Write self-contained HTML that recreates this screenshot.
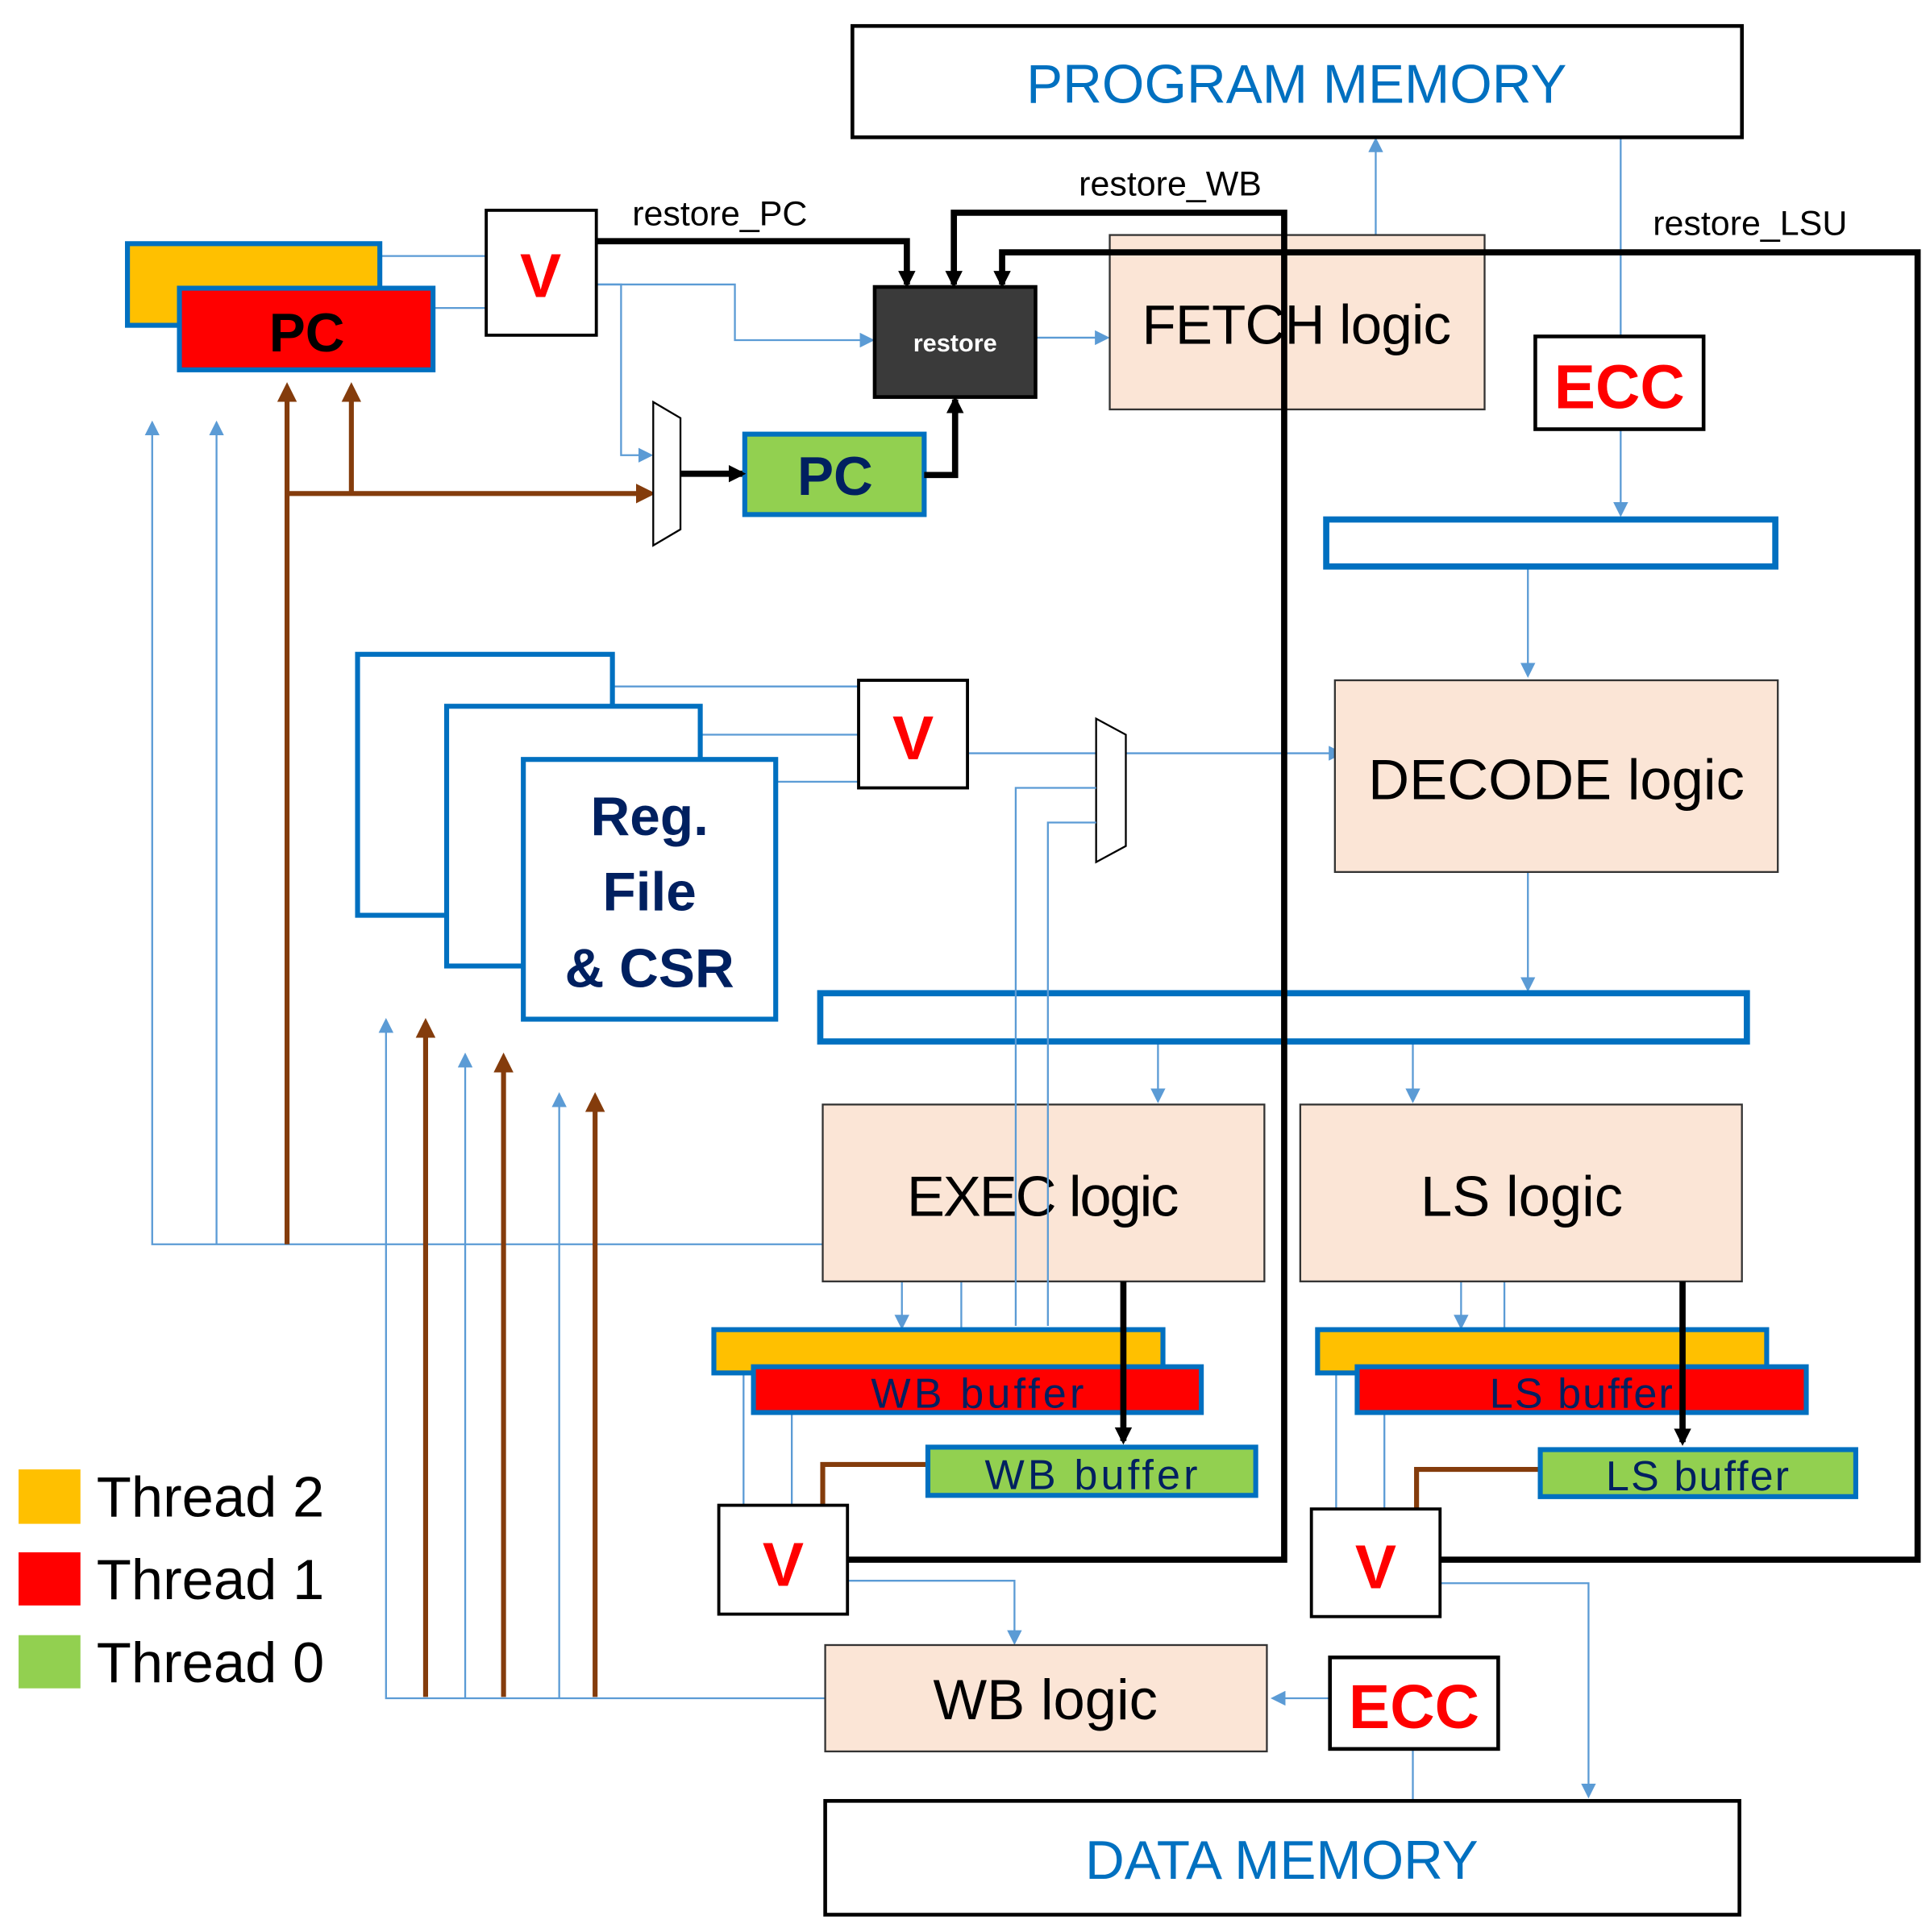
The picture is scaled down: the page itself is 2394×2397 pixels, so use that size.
<!DOCTYPE html>
<html><head><meta charset="utf-8"><style>
html,body{margin:0;padding:0;background:#fff;}
svg{display:block;}
text{font-family:"Liberation Sans","DejaVu Sans",sans-serif;}
</style></head><body>
<svg width="2394" height="2397" viewBox="0 0 1560 1562" xmlns="http://www.w3.org/2000/svg">
<defs>
<marker id="ab" markerWidth="12" markerHeight="12" refX="10" refY="6" orient="auto" markerUnits="userSpaceOnUse"><path d="M0,0 L12,6 L0,12 z" fill="#5b9bd5"/></marker>
<marker id="ak" markerWidth="14" markerHeight="14" refX="11" refY="7" orient="auto" markerUnits="userSpaceOnUse"><path d="M0,0 L14,7 L0,14 z" fill="#000"/></marker>
<marker id="ar" markerWidth="16" markerHeight="16" refX="12" refY="8" orient="auto" markerUnits="userSpaceOnUse"><path d="M0,0 L16,8 L0,16 z" fill="#843c0c"/></marker>
</defs>

<g stroke="#5b9bd5" stroke-width="1.5" fill="none">
<path d="M307,207 H393"/><path d="M350,249 H393"/>
<path d="M482,230 H594 V275 H705" marker-end="url(#ab)"/>
<path d="M482,230 H502 V368 H526" marker-end="url(#ab)"/>
<path d="M837,273 H895" marker-end="url(#ab)"/>
<path d="M1112,190 V113" marker-end="url(#ab)"/>
<path d="M1310,111 V272"/>
<path d="M1310,347 V416" marker-end="url(#ab)"/>
<path d="M1235,458 V546" marker-end="url(#ab)"/>
<path d="M495,555 H694"/><path d="M566,594 H694"/><path d="M627,632 H694"/>
<path d="M782,609 H886"/>
<path d="M910,609 H1084" marker-end="url(#ab)"/>
<path d="M1235,705 V800" marker-end="url(#ab)"/>
<path d="M936,842 V890" marker-end="url(#ab)"/>
<path d="M1142,842 V890" marker-end="url(#ab)"/>
<path d="M665,1006 H123 V342" marker-end="url(#ab)"/>
<path d="M175,1006 V342" marker-end="url(#ab)"/>
<path d="M729,1036 V1073" marker-end="url(#ab)"/>
<path d="M777,1036 V1100" marker-end="url(#ab)"/>
<path d="M1181,1036 V1073" marker-end="url(#ab)"/>
<path d="M1216,1036 V1100" marker-end="url(#ab)"/>
<path d="M601,1110 V1217"/><path d="M640,1142 V1217"/>
<path d="M1080,1110 V1220"/><path d="M1119,1142 V1220"/>
<path d="M685,1278 H820 V1328" marker-end="url(#ab)"/>
<path d="M1164,1280 H1284 V1452" marker-end="url(#ab)"/>
<path d="M1075,1373 H1029" marker-end="url(#ab)"/>
<path d="M1142,1414 V1456"/>
<path d="M667,1373 H312 V825" marker-end="url(#ab)"/>
<path d="M376,1373 V853" marker-end="url(#ab)"/>
<path d="M452,1373 V885" marker-end="url(#ab)"/>
</g>

<g stroke="#843c0c" stroke-width="4" fill="none">
<path d="M232,1006 V313" marker-end="url(#ar)"/>
<path d="M284,399 V313" marker-end="url(#ar)"/>
<path d="M232,399 H526" marker-end="url(#ar)"/>
<path d="M344,1372 V827" marker-end="url(#ar)"/>
<path d="M407,1372 V855" marker-end="url(#ar)"/>
<path d="M481,1372 V887" marker-end="url(#ar)"/>
<path d="M665,1217 V1184 H750"/>
<path d="M1145,1220 V1188 H1245"/>
</g>

<rect x="689" y="21" width="719" height="90" fill="#fff" stroke="#000" stroke-width="3"/>
<text x="1048" y="83" font-size="44" fill="#0070c0" text-anchor="middle">PROGRAM MEMORY</text>

<rect x="103" y="197" width="204" height="66" fill="#ffc000" stroke="#0070c0" stroke-width="4"/>
<rect x="145" y="233" width="205" height="66" fill="#ff0000" stroke="#0070c0" stroke-width="4"/>
<text x="248" y="284" font-size="44" font-weight="bold" fill="#000" text-anchor="middle">PC</text>

<rect x="393" y="170" width="89" height="101" fill="#fff" stroke="#000" stroke-width="2.5"/>
<text x="437" y="240" font-size="50" font-weight="bold" fill="#ff0000" text-anchor="middle">V</text>

<rect x="897" y="190" width="303" height="141" fill="#fbe5d6" stroke="#333" stroke-width="1.5"/>
<text x="1048" y="278" font-size="45" fill="#000" text-anchor="middle" textLength="250">FETCH logic</text>

<rect x="1241" y="272" width="136" height="75" fill="#fff" stroke="#000" stroke-width="3"/>
<text x="1309" y="330" font-size="50" font-weight="bold" fill="#ff0000" text-anchor="middle">ECC</text>

<rect x="1072" y="420" width="363" height="38" fill="#fff" stroke="#0070c0" stroke-width="5"/>

<path d="M528,325 L550,338 L550,428 L528,441 Z" fill="#fff" stroke="#000" stroke-width="1.5"/>
<rect x="602" y="351" width="145" height="65" fill="#92d050" stroke="#0070c0" stroke-width="4"/>
<text x="675" y="400" font-size="44" font-weight="bold" fill="#002060" text-anchor="middle">PC</text>

<rect x="289" y="529" width="206" height="211" fill="#fff" stroke="#0070c0" stroke-width="4"/>
<rect x="361" y="571" width="205" height="210" fill="#fff" stroke="#0070c0" stroke-width="4"/>
<rect x="423" y="614" width="204" height="210" fill="#fff" stroke="#0070c0" stroke-width="4"/>
<text x="525" y="675" font-size="44" font-weight="bold" fill="#002060" text-anchor="middle">Reg.</text>
<text x="525" y="736" font-size="44" font-weight="bold" fill="#002060" text-anchor="middle">File</text>
<text x="525" y="798" font-size="44" font-weight="bold" fill="#002060" text-anchor="middle">&amp; CSR</text>

<rect x="694" y="550" width="88" height="87" fill="#fff" stroke="#000" stroke-width="2.5"/>
<text x="738" y="614" font-size="50" font-weight="bold" fill="#ff0000" text-anchor="middle">V</text>

<path d="M886,581 L910,594 L910,684 L886,697 Z" fill="#fff" stroke="#000" stroke-width="1.5"/>

<rect x="1079" y="550" width="358" height="155" fill="#fbe5d6" stroke="#333" stroke-width="1.5"/>
<text x="1258" y="646" font-size="46" fill="#000" text-anchor="middle">DECODE logic</text>

<rect x="663" y="803" width="749" height="39" fill="#fff" stroke="#0070c0" stroke-width="5"/>

<rect x="665" y="893" width="357" height="143" fill="#fbe5d6" stroke="#333" stroke-width="1.5"/>
<text x="843" y="983" font-size="46" fill="#000" text-anchor="middle" textLength="220">EXEC logic</text>
<rect x="1051" y="893" width="357" height="143" fill="#fbe5d6" stroke="#333" stroke-width="1.5"/>
<text x="1230" y="983" font-size="46" fill="#000" text-anchor="middle">LS logic</text>

<g stroke="#5b9bd5" stroke-width="1.5" fill="none">
<path d="M821,1072 V637 H886"/><path d="M847,1072 V665 H886"/>
</g>

<rect x="577" y="1075" width="363" height="35" fill="#ffc000" stroke="#0070c0" stroke-width="4"/>
<rect x="609" y="1105" width="362" height="37" fill="#ff0000" stroke="#0070c0" stroke-width="4"/>
<text x="790" y="1138" font-size="34" fill="#002060" text-anchor="middle" textLength="172">WB buffer</text>
<rect x="750" y="1170" width="265" height="39" fill="#92d050" stroke="#0070c0" stroke-width="4"/>
<text x="882" y="1204" font-size="34" fill="#002060" text-anchor="middle" textLength="172">WB buffer</text>

<rect x="1065" y="1075" width="363" height="35" fill="#ffc000" stroke="#0070c0" stroke-width="4"/>
<rect x="1097" y="1105" width="363" height="37" fill="#ff0000" stroke="#0070c0" stroke-width="4"/>
<text x="1278" y="1138" font-size="34" fill="#002060" text-anchor="middle" textLength="148">LS buffer</text>
<rect x="1245" y="1172" width="255" height="38" fill="#92d050" stroke="#0070c0" stroke-width="4"/>
<text x="1372" y="1205" font-size="34" fill="#002060" text-anchor="middle" textLength="148">LS buffer</text>

<rect x="581" y="1217" width="104" height="88" fill="#fff" stroke="#000" stroke-width="2.5"/>
<text x="633" y="1282" font-size="50" font-weight="bold" fill="#ff0000" text-anchor="middle">V</text>
<rect x="1060" y="1220" width="104" height="87" fill="#fff" stroke="#000" stroke-width="2.5"/>
<text x="1112" y="1284" font-size="50" font-weight="bold" fill="#ff0000" text-anchor="middle">V</text>

<rect x="667" y="1330" width="357" height="86" fill="#fbe5d6" stroke="#333" stroke-width="1.5"/>
<text x="845" y="1390" font-size="46" fill="#000" text-anchor="middle">WB logic</text>
<rect x="1075" y="1340" width="136" height="74" fill="#fff" stroke="#000" stroke-width="3"/>
<text x="1143" y="1397" font-size="50" font-weight="bold" fill="#ff0000" text-anchor="middle">ECC</text>

<rect x="667" y="1456" width="739" height="92" fill="#fff" stroke="#000" stroke-width="3"/>
<text x="1036" y="1519" font-size="44" fill="#0070c0" text-anchor="middle">DATA MEMORY</text>

<g stroke="#000" stroke-width="5" fill="none">
<path d="M482,195 H733 V230" marker-end="url(#ak)"/>
<path d="M685,1261 H1038 V172 H771 V230" marker-end="url(#ak)"/>
<path d="M1164,1261 H1550 V204 H810 V230" marker-end="url(#ak)"/>
<path d="M747,384 H772 V323" marker-end="url(#ak)"/>
<path d="M550,383 H600" marker-end="url(#ak)"/>
<path d="M908,1036 V1165" marker-end="url(#ak)"/>
<path d="M1360,1036 V1166" marker-end="url(#ak)"/>
</g>

<rect x="707" y="232" width="130" height="89" fill="#3a3a3a" stroke="#000" stroke-width="3"/>
<text x="772" y="284" font-size="20" font-weight="bold" fill="#fff" text-anchor="middle">restore</text>

<text x="511" y="182" font-size="28" fill="#000">restore_PC</text>
<text x="872" y="158" font-size="28" fill="#000">restore_WB</text>
<text x="1336" y="190" font-size="28" fill="#000">restore_LSU</text>

<rect x="15" y="1188" width="50" height="44" fill="#ffc000"/>
<rect x="15" y="1255" width="50" height="43" fill="#ff0000"/>
<rect x="15" y="1322" width="50" height="43" fill="#92d050"/>
<text x="78" y="1226" font-size="46" fill="#000">Thread 2</text>
<text x="78" y="1293" font-size="46" fill="#000">Thread 1</text>
<text x="78" y="1360" font-size="46" fill="#000">Thread 0</text>
</svg>
</body></html>
